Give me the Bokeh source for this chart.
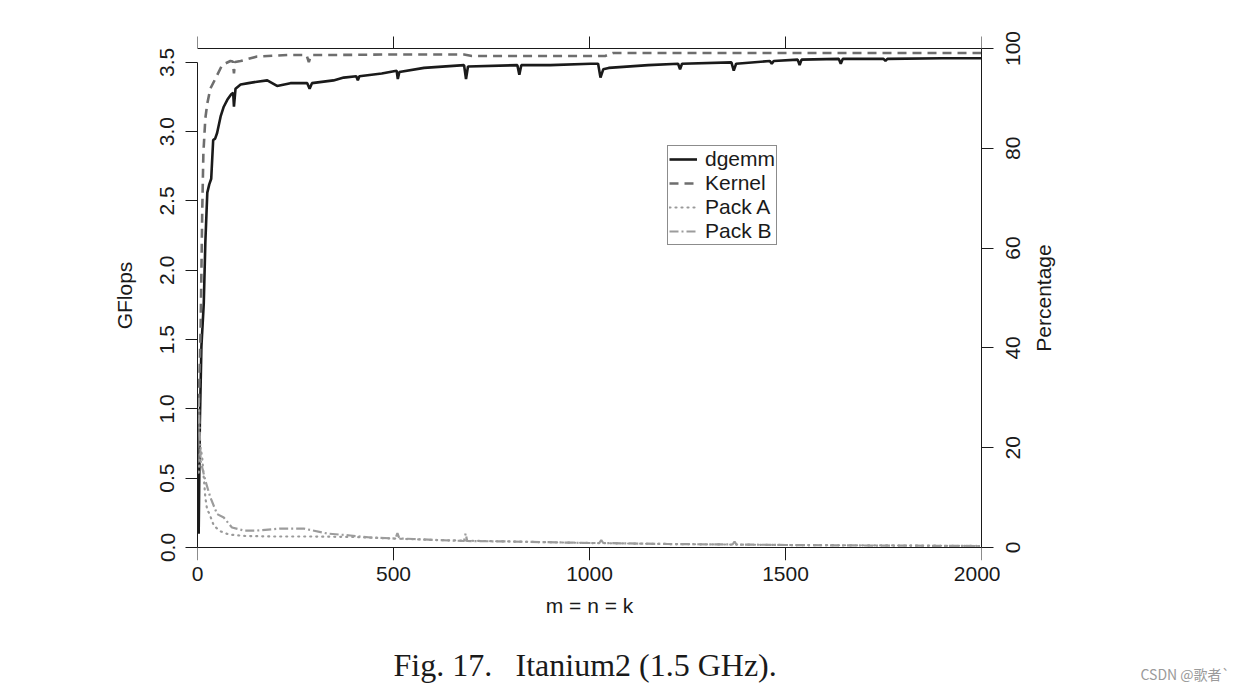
import math
from bokeh.plotting import figure
from bokeh.layouts import column, row
from bokeh.models import (Range1d, LinearAxis, FixedTicker, NumeralTickFormatter, Label)
from bokeh.core.properties import value
from bokeh.embed import file_html
from bokeh.resources import INLINE

# ---------------- data ----------------
x_ticks = [0, 500, 1000, 1500, 2000]
gflops_ticks = [0.0, 0.5, 1.0, 1.5, 2.0, 2.5, 3.0, 3.5]
pct_ticks = [0, 20, 40, 60, 80, 100]
pct_labels = ["0", "20", "40", "60", "80", "100"]

dgemm_x = [3, 6, 10, 16, 20, 25, 30, 35, 40, 45, 50, 59, 67, 76, 86, 91, 93, 97, 110, 130,
           152, 178, 203, 237, 263, 280, 286, 292, 347, 373, 405, 409, 413, 470, 508, 511, 515,
           578, 680, 685, 690, 816, 821, 826, 900, 1003, 1022, 1028, 1035, 1049, 1150, 1226,
           1231, 1236, 1362, 1368, 1374, 1460, 1465, 1470, 1531, 1536, 1541, 1636, 1641, 1646,
           1750, 1755, 1760, 1900, 2000]
dgemm_gflops = [0.10, 0.90, 1.45, 1.76, 2.20, 2.56, 2.62, 2.66, 2.94, 2.95, 2.99, 3.11, 3.18,
                3.23, 3.27, 3.28, 3.18, 3.31, 3.34, 3.35, 3.36, 3.37, 3.33, 3.35, 3.35, 3.35,
                3.31, 3.35, 3.37, 3.39, 3.40, 3.37, 3.40, 3.42, 3.44, 3.38, 3.43, 3.46, 3.48,
                3.38, 3.47, 3.48, 3.41, 3.48, 3.48, 3.49, 3.49, 3.39, 3.45, 3.46, 3.48, 3.49,
                3.45, 3.49, 3.50, 3.44, 3.49, 3.51, 3.49, 3.51, 3.52, 3.48, 3.52, 3.525, 3.49,
                3.525, 3.525, 3.51, 3.525, 3.53, 3.53]

kernel_x = [2, 4, 8, 12, 15, 20, 25, 33, 46, 63, 84, 90, 93, 96, 110, 152, 229, 278, 284, 290,
            350, 493, 600, 680, 700, 1000, 1040, 1060, 1500, 2000]
kernel_pct = [17, 31, 44, 67, 79, 86, 89, 92, 94, 96.7, 97.5, 97.4, 95.0, 97.3, 97.5, 98.4,
              98.7, 98.7, 97.3, 98.7, 98.7, 98.8, 98.8, 98.8, 98.5, 98.5, 98.5, 99.1, 99.1, 99.1]

packA_x = [3, 8, 12, 16, 20, 25, 29, 34, 42, 60, 80, 122, 200, 300, 400, 500, 600, 800, 1000,
           1200, 1500, 1800, 2000]
packA_pct = [15, 20, 18, 14, 10, 7.4, 7.0, 6.0, 4.3, 3.2, 2.6, 2.3, 2.2, 2.2, 2.1, 1.8, 1.5,
             1.2, 0.9, 0.7, 0.5, 0.4, 0.3]

packB_x = [3, 8, 20, 33, 50, 67, 88, 118, 152, 212, 271, 331, 390, 442, 505, 510, 515, 552,
           612, 680, 684, 688, 800, 1000, 1025, 1030, 1035, 1200, 1365, 1370, 1375, 1500,
           1700, 2000]
packB_pct = [30, 17.4, 13.4, 10, 6.7, 6.0, 4.0, 3.4, 3.4, 3.8, 3.8, 2.8, 2.4, 2.0, 1.8, 2.9,
             1.8, 1.7, 1.5, 1.3, 2.8, 1.3, 1.2, 0.9, 0.9, 1.5, 0.9, 0.7, 0.6, 1.2, 0.6, 0.5,
             0.4, 0.3]

GF_MAX = 3.6      # GFlops value at the top line
PCT_MAX = 100.0   # percentage at the top line

# ---------------- layout geometry (pixels) ----------------
FONT = "Liberation Sans"
TXT = "#1a1a1a"
H_MAIN = 640
FT, FB = 30, 560              # plot frame top / bottom rows
Y_TOPLINE, Y_ZERO = 48, 547   # rows of the top line and of the zero line
gf_px = GF_MAX / (Y_ZERO - Y_TOPLINE)
pc_px = PCT_MAX / (Y_ZERO - Y_TOPLINE)
gf_range = Range1d(-(FB - Y_ZERO) * gf_px, GF_MAX + (Y_TOPLINE - FT) * gf_px)
pct_lo, pct_hi = -(FB - Y_ZERO) * pc_px, PCT_MAX + (Y_TOPLINE - FT) * pc_px

# ---------------- main figure ----------------
p = figure(width=1000, height=H_MAIN, output_backend="svg", toolbar_location=None,
           x_range=Range1d(0, 2000), y_range=gf_range,
           min_border_left=197, min_border_right=19, min_border_top=FT,
           min_border_bottom=H_MAIN - FB, x_axis_location=None, y_axis_location=None)
p.extra_y_ranges = {"pct": Range1d(pct_lo, pct_hi)}
p.grid.visible = False
p.outline_line_color = None


def style_axis(ax):
    ax.axis_line_color = TXT
    ax.axis_line_width = 1
    ax.major_tick_line_color = TXT
    ax.major_tick_line_width = 1
    ax.major_tick_in = 0
    ax.major_tick_out = 12
    ax.minor_tick_line_color = None
    ax.major_label_text_font = FONT
    ax.major_label_text_font_size = "21px"
    ax.major_label_text_color = TXT
    ax.axis_label_text_font = FONT
    ax.axis_label_text_font_size = "21px"
    ax.axis_label_text_font_style = "normal"
    ax.axis_label_text_color = TXT


# bottom: labels (at the frame edge) + line/ticks (fixed at GFlops = 0)
bottom_labels = LinearAxis(ticker=FixedTicker(ticks=x_ticks), axis_label="m = n = k")
style_axis(bottom_labels)
bottom_labels.axis_line_color = None
bottom_labels.major_tick_line_color = None
bottom_labels.major_tick_out = 0
bottom_labels.major_label_standoff = 6
bottom_labels.axis_label_standoff = 10
p.add_layout(bottom_labels, "below")

bottom = LinearAxis(ticker=FixedTicker(ticks=x_ticks), fixed_location=0,
                    major_label_overrides={t: "" for t in x_ticks})
style_axis(bottom)
bottom.major_tick_out = 13
bottom.major_label_text_font_size = "1px"
bottom.major_label_standoff = 0
p.add_layout(bottom, "below")

top = LinearAxis(ticker=FixedTicker(ticks=x_ticks), fixed_location=GF_MAX,
                 major_label_overrides={t: "" for t in x_ticks})
style_axis(top)
top.major_label_text_font_size = "1px"
p.add_layout(top, "above")

left = LinearAxis(ticker=FixedTicker(ticks=gflops_ticks), axis_label="GFlops",
                  formatter=NumeralTickFormatter(format="0.0"), bounds=(0, 3.5))
style_axis(left)
left.major_label_orientation = "parallel"
left.major_label_standoff = 11
left.axis_label_standoff = 22
p.add_layout(left, "left")

right = LinearAxis(y_range_name="pct", ticker=FixedTicker(ticks=pct_ticks), bounds=(0, 100),
                   major_label_overrides={t: "" for t in pct_ticks})
style_axis(right)
right.major_label_text_font_size = "1px"
right.major_label_standoff = 0
p.add_layout(right, "right")

p.line(dgemm_x, dgemm_gflops, line_color="#1a1a1a", line_width=2.6, legend_label="dgemm")
p.line(kernel_x, kernel_pct, y_range_name="pct", line_color="#6e6e6e", line_width=2.6,
       line_dash="9 6", legend_label="Kernel")
p.line(packA_x, packA_pct, y_range_name="pct", line_color="#9a9a9a", line_width=2.2,
       line_dash="1 5", line_cap="round", legend_label="Pack A")
p.line(packB_x, packB_pct, y_range_name="pct", line_color="#9c9c9c", line_width=2.2,
       line_dash="9 3 2 3", legend_label="Pack B")

lg = p.legend[0]
lg.location = (470, FB - 245)
lg.border_line_color = TXT
lg.border_line_width = 1
lg.background_fill_alpha = 1
lg.label_text_font = FONT
lg.label_text_font_size = "21px"
lg.label_text_color = TXT
lg.glyph_width = 28
lg.glyph_height = 24
lg.label_height = 24
lg.label_standoff = 8
lg.spacing = 0
lg.padding = 1
lg.margin = 0

# ---------------- right-hand labels (Percentage axis, read bottom-to-top) ----------------
pr = figure(width=247, height=H_MAIN, output_backend="svg", toolbar_location=None,
            x_range=Range1d(1000, 1247), y_range=Range1d(pct_lo, pct_hi),
            min_border_left=0, min_border_right=0, min_border_top=FT,
            min_border_bottom=H_MAIN - FB, x_axis_location=None, y_axis_location=None)
pr.grid.visible = False
pr.outline_line_color = None
pr.text(x=[1012] * len(pct_ticks), y=pct_ticks, text=pct_labels, angle=math.pi / 2,
        text_align="center", text_baseline="middle", text_font=value(FONT),
        text_font_size="21px", text_color=TXT)
pr.add_layout(Label(x=1043, y=50, text="Percentage", angle=math.pi / 2,
                    text_align="center", text_baseline="middle", text_font=FONT,
                    text_font_size="21px", text_color=TXT))

# ---------------- caption strip ----------------
pc = figure(width=1247, height=53, output_backend="svg", toolbar_location=None,
            x_range=Range1d(0, 1247), y_range=Range1d(693, 640),
            min_border=0, x_axis_location=None, y_axis_location=None)
pc.grid.visible = False
pc.outline_line_color = None
pc.add_layout(Label(x=393, y=664, text="Fig. 17.", text_font="Liberation Serif",
                    text_font_size="32px", text_color=TXT, text_baseline="alphabetic"))
pc.add_layout(Label(x=515, y=664, text="Itanium2 (1.5 GHz).", text_font="Liberation Serif",
                    text_font_size="32px", text_color=TXT, text_baseline="alphabetic"))
pc.add_layout(Label(x=1140, y=673, text="CSDN @歌者`", text_font="Noto Sans CJK SC",
                    text_font_size="14px", text_color="#9a9a9a", text_baseline="alphabetic"))

layout = column(row(p, pr, spacing=0), pc, spacing=0)
open("out.html", "w").write(file_html(layout, INLINE))
